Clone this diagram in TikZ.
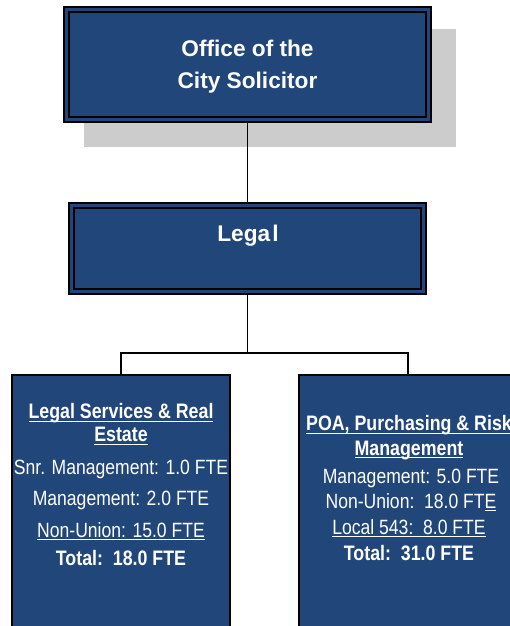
\documentclass[tikz,border=0pt]{standalone}
\usepackage{fontspec}
\setmainfont{Liberation Sans}
\newfontfamily\narrowfont[FakeStretch=0.85]{Liberation Sans}
% underline drawn at a fixed depth below the baseline
\newsavebox\ulbox
\newcommand{\myuline}[1]{\sbox\ulbox{#1}\rlap{\rule[-2.4pt]{\wd\ulbox}{0.9pt}}\usebox\ulbox}
\definecolor{boxblue}{RGB}{33,71,122}
\definecolor{shadowgray}{RGB}{204,204,204}
\tikzset{
  unitbox/.style={draw=black, line width=1.5pt, double=boxblue,
    double distance=2.25pt, fill=boxblue, inner sep=0pt, outer sep=2.6pt},
  deptbox/.style={draw=black, line width=1.2pt, fill=boxblue,
    inner sep=0pt, anchor=north, minimum width=163.5pt, minimum height=245pt},
  link/.style={draw=black, line width=1.4pt},
  titletext/.style={text=white, font=\bfseries\fontsize{17}{24}\selectfont,
    anchor=base, inner sep=0pt},
  bodytext/.style={text=white, font=\narrowfont\fontsize{15.5}{18}\selectfont,
    anchor=base, inner sep=0pt},
  headtext/.style={text=white, font=\narrowfont\bfseries\fontsize{15.7}{18}\selectfont,
    anchor=base, inner sep=0pt}
}
\begin{document}
\begin{tikzpicture}[x=0.75pt, y=-0.75pt]
  \useasboundingbox (0,0) rectangle (510,626);
  \clip (0,0) rectangle (510,626);

  % drop shadow behind the top unit
  \fill[shadowgray] (84,29) rectangle (456,147);

  % units
  \node[unitbox, minimum width=271.5pt, minimum height=82.5pt] (office) at (247.5,64.5) {};
  \node[titletext] (officeA) at (247.5,56) {Office of the};
  \node[titletext] (officeB) at (247.5,88.3) {City Solicitor};

  \node[unitbox, minimum width=264pt, minimum height=64.5pt] (legal) at (247.5,248.5) {};
  \node[titletext] (legalT) at (248,241.5) {Lega\kern1.6pt l};

  % divisions
  \node[deptbox] (lsre) at (121,374) {};
  \node[deptbox] (poa) at (408,374) {};

  % connectors
  \coordinate (split) at (247.5,353);
  \draw[link] (office.south) -- (legal.north);
  \draw[link] (legal.south) -- (split);
  \draw[link] (lsre.north) |- (split) -| (poa.north);

  % Legal Services & Real Estate
  \node[headtext] (l1) at (121,418.5) {\myuline{Legal Services \& Real}};
  \node[headtext] (l2) at (121,441.5) {\myuline{Estate}};
  \node[bodytext] (l3) at (121,474) {Snr. Management: 1.0 FTE};
  \node[bodytext] (l4) at (121,505) {Management: 2.0 FTE};
  \node[bodytext] (l5) at (121,537) {\myuline{Non-Union: 15.0 FTE}};
  \node[headtext] (l6) at (121,565) {Total:\ \ 18.0 FTE};

  % POA, Purchasing & Risk Management
  \node[headtext] (r1) at (409,430.5) {\myuline{POA, Purchasing \& Risk}};
  \node[headtext] (r2) at (409,455) {\myuline{Management}};
  \node[bodytext] (r3) at (411,483) {Management: 5.0 FTE};
  \node[bodytext] (r4) at (411,508) {Non-Union:\ \ 18.0 FT\myuline{E}};
  \node[bodytext] (r5) at (409,534) {\myuline{Local 543:\ \ 8.0 FTE}};
  \node[headtext] (r6) at (409,560) {Total:\ \ 31.0 FTE};
\end{tikzpicture}
\end{document}
